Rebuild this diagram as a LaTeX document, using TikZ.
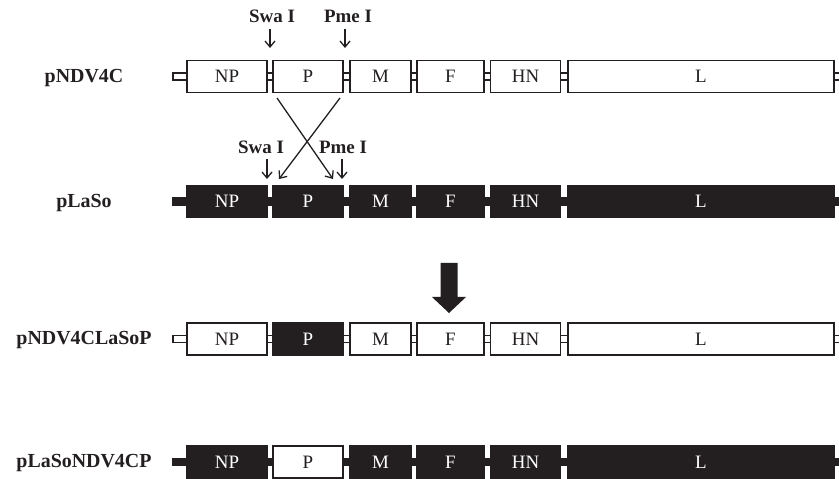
\documentclass[tikz,border=0pt]{standalone}
\usepackage{fontspec}
\setmainfont{Liberation Serif}
\usetikzlibrary{arrows.meta,calc}
\definecolor{ink}{HTML}{231F20}
\newcommand\GeneRow[6]{%
  % #1 prefix, #2 y, #3 main style, #4 P style, #5 bar style, #6 label
  \node[plabel] (#1lab) at (84,#2+1.5) {#6};
  \draw[#5] (173,#2-3.6) rectangle (850,#2+3.6);
  \node[#3, minimum width=80bp] (#1NP) at (227,#2) {NP};
  \node[#4, minimum width=70bp] (#1P) at (308,#2) {P};
  \node[#3, minimum width=61bp] (#1M) at (380.5,#2) {M};
  \node[#3, minimum width=67bp] (#1F) at (450.5,#2) {F};
  \node[#3, minimum width=70bp] (#1HN) at (525.5,#2) {HN};
  \node[#3, minimum width=266bp] (#1L) at (701,#2) {L};
}
\begin{document}
\begin{tikzpicture}[x=1bp,y=-1bp,
  gene/.style={draw=ink,line width=1.9bp,minimum height=32bp,inner sep=0pt,font=\fontsize{19}{21}\selectfont},
  wt/.style={gene,fill=white,text=ink},
  bk/.style={gene,fill=ink,text=white},
  wbar/.style={draw=ink,line width=1.5bp,fill=white},
  bbar/.style={draw=ink,line width=1.5bp,fill=ink},
  plabel/.style={font=\fontsize{20}{22}\selectfont\bfseries,text=ink,inner sep=0pt},
  enz/.style={font=\fontsize{19}{21}\selectfont\bfseries,text=ink,inner sep=0pt},
  cut/.style={draw=ink,line width=1.3bp,-{Straight Barb[length=6bp,width=10bp,line width=1.3bp]}}
]
\useasboundingbox (0,0) rectangle (839,479);
\clip (0,0) rectangle (839,479);

\GeneRow{a}{76.5}{wt}{wt}{wbar}{pNDV4C}
\GeneRow{b}{201.5}{bk}{bk}{bbar}{pLaSo}
\GeneRow{c}{339}{wt}{bk}{wbar}{pNDV4CLaSoP}
\GeneRow{d}{462}{bk}{wt}{bbar}{pLaSoNDV4CP}

% enzyme sites, top row
\node[enz] (swa1) at (272,16) {Swa I};
\node[enz] (pme1) at (348,16) {Pme I};
\coordinate (swa1t) at (270,48);
\coordinate (pme1t) at (345,48);
\draw[cut] (270,29) -- (swa1t);
\draw[cut] (345,29) -- (pme1t);

% enzyme sites, second row
\node[enz] (swa2) at (261,147) {Swa I};
\node[enz] (pme2) at (343,147) {Pme I};
\coordinate (swa2t) at (267,179);
\coordinate (pme2t) at (342,179);
\draw[cut] (267,159) -- (swa2t);
\draw[cut] (342,159) -- (pme2t);

% exchange cross
\coordinate (xa) at (277,98);
\coordinate (xb) at (340,98);
\coordinate (xc) at (333,179);
\coordinate (xd) at (279,179);
\draw[cut] (xa) -- (xc);
\draw[cut] (xb) -- (xd);

% big down arrow
\fill[ink] (440.5,263) -- (457.5,263) -- (457.5,297) -- (466,297) -- (449,313) -- (432,297) -- (440.5,297) -- cycle;
\end{tikzpicture}
\end{document}
